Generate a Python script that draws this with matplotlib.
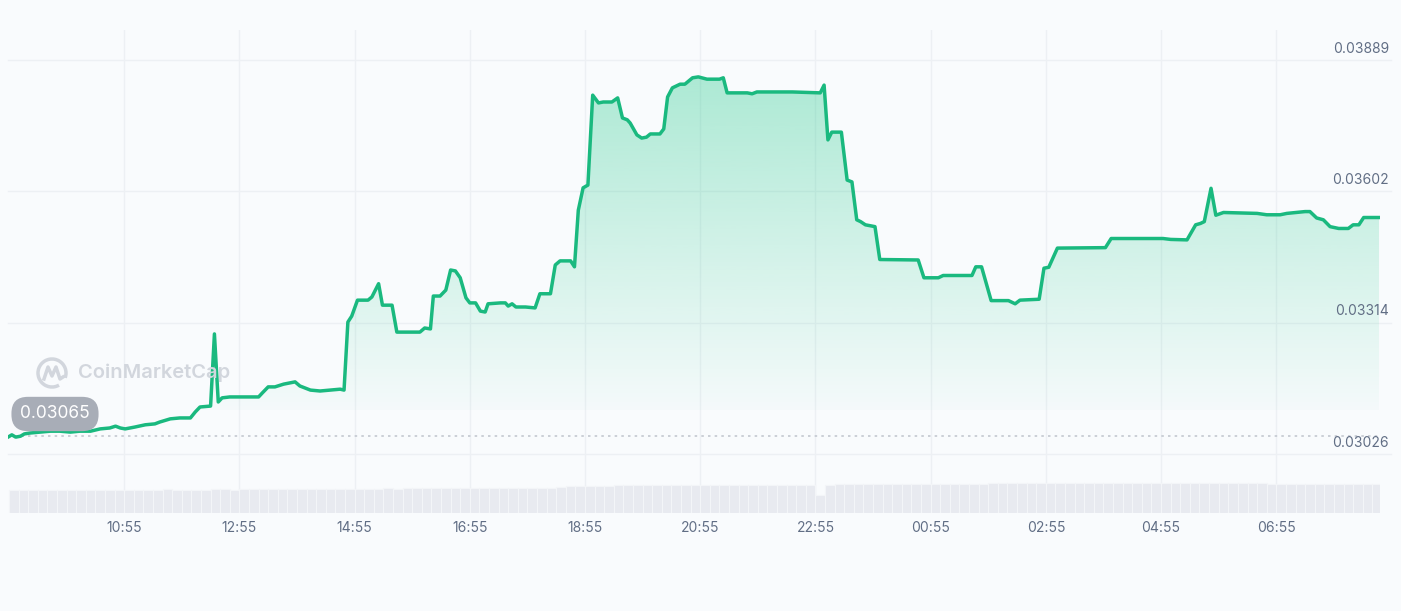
import matplotlib.pyplot as plt
import matplotlib.dates as mdates
import numpy as np
import pandas as pd
from matplotlib.patches import Polygon, Arc
from matplotlib.lines import Line2D
from matplotlib.transforms import IdentityTransform, blended_transform_factory

# --- datos ---
times = ["08:54", "08:58", "09:02", "09:07", "09:11", "09:17", "09:27", "09:38", "09:48", "09:59",
         "10:09", "10:20", "10:30", "10:40", "10:46", "10:51", "10:56", "11:06", "11:17", "11:27",
         "11:32", "11:43", "11:53", "12:04", "12:09", "12:14", "12:25", "12:29", "12:33", "12:37",
         "12:45", "13:01", "13:15", "13:19", "13:25", "13:32", "13:41", "13:53", "13:58", "14:09",
         "14:19", "14:30", "14:40", "14:44", "14:48", "14:52", "14:58", "15:09", "15:13", "15:20",
         "15:24", "15:34", "15:39", "15:53", "16:03", "16:08", "16:14", "16:17", "16:24", "16:30",
         "16:35", "16:40", "16:45", "16:51", "16:55", "17:01", "17:06", "17:11", "17:14", "17:27",
         "17:32", "17:35", "17:39", "17:43", "17:53", "18:03", "18:08", "18:19", "18:24", "18:29",
         "18:40", "18:44", "18:48", "18:53", "18:58", "19:03", "19:09", "19:14", "19:23", "19:29",
         "19:34", "19:39", "19:42", "19:49", "19:54", "19:59", "20:03", "20:13", "20:17", "20:21",
         "20:26", "20:34", "20:39", "20:47", "20:53", "21:02", "21:15", "21:19", "21:23", "21:44",
         "21:49", "21:54", "22:31", "23:00", "23:04", "23:08", "23:12", "23:22", "23:28", "23:33",
         "23:38", "23:42", "23:47", "23:57", "00:02", "00:42", "00:48", "01:03", "01:08", "01:38",
         "01:42", "01:48", "01:58", "02:16", "02:23", "02:28", "02:48", "02:53", "02:58", "03:07",
         "03:57", "04:03", "04:33", "04:57", "05:05", "05:22", "05:31", "05:36", "05:40", "05:47",
         "05:52", "06:00", "06:35", "06:45", "06:59", "07:06", "07:25", "07:30", "07:37", "07:44",
         "07:51", "08:00", "08:10", "08:15", "08:21", "08:26", "08:42"]

prices = [0.03063, 0.03068, 0.03063, 0.03065, 0.03070, 0.03072, 0.03074, 0.03076, 0.03076, 0.03074,
          0.03076, 0.03076, 0.03081, 0.03083, 0.03087, 0.03083, 0.03081, 0.03085, 0.03090, 0.03092,
          0.03096, 0.03103, 0.03105, 0.03105, 0.03118, 0.03129, 0.03131, 0.03289, 0.03140, 0.03149,
          0.03151, 0.03151, 0.03151, 0.03160, 0.03173, 0.03173, 0.03179, 0.03184, 0.03175, 0.03166,
          0.03164, 0.03166, 0.03168, 0.03166, 0.03315, 0.03328, 0.03363, 0.03363, 0.03370, 0.03399,
          0.03352, 0.03352, 0.03293, 0.03293, 0.03293, 0.03302, 0.03300, 0.03372, 0.03372, 0.03385,
          0.03429, 0.03427, 0.03412, 0.03368, 0.03357, 0.03357, 0.03339, 0.03337, 0.03355, 0.03357,
          0.03357, 0.03350, 0.03355, 0.03348, 0.03348, 0.03346, 0.03377, 0.03377, 0.03440, 0.03449,
          0.03449, 0.03436, 0.03560, 0.03609, 0.03615, 0.03812, 0.03795, 0.03797, 0.03797, 0.03806,
          0.03762, 0.03758, 0.03751, 0.03725, 0.03718, 0.03720, 0.03727, 0.03727, 0.03738, 0.03808,
          0.03828, 0.03836, 0.03836, 0.03850, 0.03852, 0.03847, 0.03847, 0.03850, 0.03817, 0.03817,
          0.03815, 0.03819, 0.03819, 0.03817, 0.03834, 0.03714, 0.03731, 0.03731, 0.03626, 0.03622,
          0.03539, 0.03535, 0.03528, 0.03524, 0.03452, 0.03451, 0.03412, 0.03412, 0.03417, 0.03417,
          0.03436, 0.03436, 0.03362, 0.03362, 0.03355, 0.03363, 0.03365, 0.03433, 0.03435, 0.03477,
          0.03478, 0.03498, 0.03498, 0.03498, 0.03496, 0.03495, 0.03528, 0.03531, 0.03535, 0.03608,
          0.03549, 0.03555, 0.03553, 0.03550, 0.03550, 0.03553, 0.03557, 0.03557, 0.03543, 0.03539,
          0.03524, 0.03520, 0.03520, 0.03528, 0.03528, 0.03544, 0.03544]

# volumen cada 10 min desde 08:55 (unidades relativas)
volume = [23, 23, 23, 23, 23, 23, 23, 23, 23, 23, 23, 23,
          23, 23, 23, 23, 24, 23, 23, 23, 23, 24, 24, 23,
          24, 24, 24, 24, 24, 24, 24, 24, 24, 24, 24, 24,
          24, 24, 24, 25, 24, 25, 25, 25, 25, 25, 25, 25,
          25, 25, 25, 25, 25, 25, 25, 25, 25, 26, 27, 27,
          27, 27, 27, 28, 28, 28, 28, 28, 28, 28, 28, 28,
          28, 28, 28, 28, 28, 28, 28, 28, 28, 28, 28, 28,
          18, 28, 29, 29, 29, 29, 29, 29, 29, 29, 29, 29,
          29, 29, 29, 29, 29, 29, 30, 30, 30, 30, 30, 30,
          30, 30, 30, 30, 30, 30, 30, 30, 30, 30, 30, 30,
          30, 30, 30, 30, 30, 30, 30, 30, 30, 30, 30, 29,
          29, 29, 29, 29, 29, 29, 29, 29, 29, 29, 29]

tick_labels = ["10:55", "12:55", "14:55", "16:55", "18:55", "20:55",
               "22:55", "00:55", "02:55", "04:55", "06:55"]
price_ticks = [0.03026, 0.03314, 0.03602, 0.03889]
open_price = 0.03065

GREEN = "#1ab97f"
BG = "#f9fbfd"
GRID = "#edf0f4"
TXT = "#616e85"


def to_dates(labels, day="2023-05-01"):
    # las horas cruzan la medianoche -> sumar un dia
    d = pd.Timestamp(day)
    out, prev = [], None
    for s in labels:
        t = pd.Timestamp(f"{d.date()} {s}")
        if prev is not None and t < prev:
            d += pd.Timedelta(days=1)
            t += pd.Timedelta(days=1)
        out.append(t)
        prev = t
    return out


t = mdates.date2num(to_dates(times))
tk = mdates.date2num(to_dates(tick_labels))
vt = mdates.date2num(pd.date_range("2023-05-01 08:55", periods=len(volume), freq="10min"))
x0, x1 = mdates.date2num([pd.Timestamp("2023-05-01 08:54"), pd.Timestamp("2023-05-02 08:43")])
p = np.array(prices)

W, H = 1401, 611
fig = plt.figure(figsize=(W / 100, H / 100), dpi=100)
fig.patch.set_facecolor(BG)
plt.rcParams["font.family"] = ["Inter", "DejaVu Sans"]

rect = [8 / W, 1 - 513 / H, 1372 / W, 483 / H]
ax = fig.add_axes(rect)
ax.set_facecolor("none")
for s in ax.spines.values():
    s.set_visible(False)

# rejilla
for xv in tk:
    ax.axvline(xv, color=GRID, lw=1, zorder=0)
for yv in price_ticks:
    ax.axhline(yv, color=GRID, lw=1, zorder=0, xmax=1.008, clip_on=False)
ax.axhline(open_price, color="#c3c8d0", lw=1.2, ls=(0, (1.5, 2.5)), zorder=1)

# relleno degradado bajo la linea
base = 0.03122
grad = np.zeros((256, 1, 4))
grad[:, 0, 0], grad[:, 0, 1], grad[:, 0, 2] = 22 / 255, 199 / 255, 132 / 255
grad[:, 0, 3] = np.linspace(0.02, 0.34, 256)
img = ax.imshow(grad, extent=[t[0], t[-1], base, 0.03860], origin="lower",
                aspect="auto", zorder=1, interpolation="bicubic")
verts = np.column_stack([np.r_[t, t[-1], t[0]], np.r_[p, base, base]])
clip = Polygon(verts, closed=True, transform=ax.transData, facecolor="none", edgecolor="none")
ax.add_patch(clip)
img.set_clip_path(clip)
ax.set_xlim(x0, x1)
ax.set_ylim(0.028968, 0.039547)

ax.plot(t, p, color=GREEN, lw=2.5, zorder=3, solid_joinstyle="round")

# etiquetas de precio a la derecha
ax.set_yticks([])
trans = blended_transform_factory(fig.transFigure, ax.transData)
for yv in price_ticks:
    ax.annotate(f"{yv:.5f}", xy=(1389 / W, yv), xycoords=trans, xytext=(0, 3),
                textcoords="offset points", ha="right", va="bottom", fontsize=10, color=TXT)

ax.set_xticks(tk)
ax.set_xticklabels(tick_labels, fontsize=10, color=TXT)
ax.tick_params(axis="x", length=0, pad=6)

# volumen
axv = fig.add_axes([8 / W, 1 - 513 / H, 1372 / W, 31 / H])
axv.set_facecolor("none")
axv.bar(vt, volume, width=10 / 1440, color="#e8eaf0", edgecolor="#f3f5f8", linewidth=0.8,
        align="edge", zorder=1)
axv.set_xlim(x0, x1)
axv.set_ylim(0, 31)
axv.axis("off")

# precio de apertura
fig.text(55 / W, 1 - 414 / H, f"{open_price:.5f}", ha="center", va="center", fontsize=12.5,
         color="white", bbox=dict(boxstyle="round,pad=0.5,rounding_size=0.95",
                                  facecolor="#a8adb7", edgecolor="none"))

# marca de agua
wm = "#d2d6dd"
cx, cy = 52, H - 373
fig.add_artist(Arc((cx, cy), 28, 28, theta1=-20, theta2=300, transform=IdentityTransform(),
                   color=wm, lw=2.5))
fig.add_artist(Line2D([cx - 8, cx - 4, cx, cx + 4, cx + 8, cx + 11],
                      [cy - 6, cy + 6, cy - 3, cy + 6, cy - 6, cy - 4],
                      transform=IdentityTransform(), color=wm, lw=2.5))
fig.text(78 / W, 1 - 373 / H, "CoinMarketCap", ha="left", va="center", fontsize=14.5,
         color=wm, fontweight="semibold")

fig.savefig("out.png", dpi=100, facecolor=BG)
